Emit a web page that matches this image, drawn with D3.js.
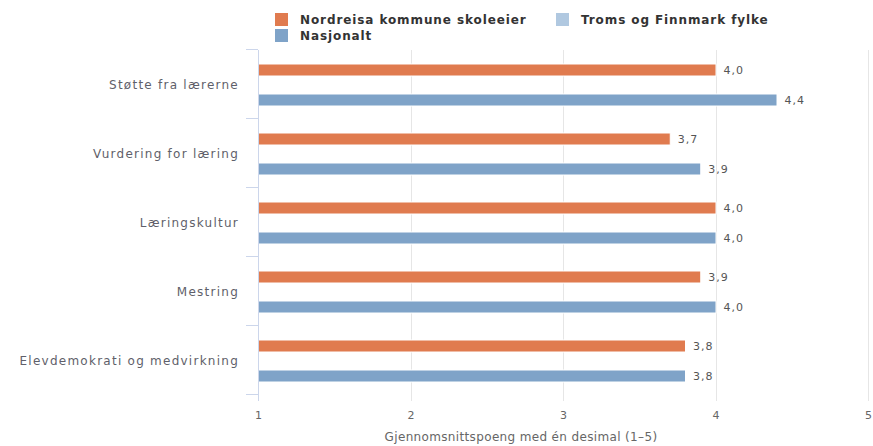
<!DOCTYPE html>
<html>
<head>
<meta charset="utf-8">
<script src="https://cdn.jsdelivr.net/npm/d3@7"></script>
<style>
  html, body { margin: 0; padding: 0; background: #fff; }
  svg { display: block; font-family: "DejaVu Sans", Verdana, sans-serif; }
</style>
</head>
<body>
<svg id="chart" width="873" height="446"></svg>
<script>
// Categories (indicators) and series values, average score 1–5
const categories = [
  "Støtte fra lærerne",
  "Vurdering for læring",
  "Læringskultur",
  "Mestring",
  "Elevdemokrati og medvirkning"
];
const seriesNames = ["Nordreisa kommune skoleeier", "Troms og Finnmark fylke", "Nasjonalt"];
const nordreisa = [4.0, 3.7, 4.0, 3.9, 3.8];
const troms = [null, null, null, null, null];
const nasjonalt = [4.4, 3.9, 4.0, 4.0, 3.8];
const xTicks = [1, 2, 3, 4, 5];
const xTitle = "Gjennomsnittspoeng med én desimal (1–5)";

const colors = ["#e07b4f", "#b0c8e0", "#7fa3c8"];
const seriesValues = [nordreisa, troms, nasjonalt];

const svg = d3.select("#chart");
const left = 258;

const x = d3.scaleLinear().domain([1, 5]).range([left, 868]);
const y = d3.scaleBand().domain(categories).range([50, 395]);
const inner = d3.scaleBand().domain(d3.range(seriesNames.length))
  .range([-20.5, 21.5]).paddingInner(0.2).paddingOuter(0);

// vertical grid lines
svg.append("g").selectAll("line")
  .data(xTicks.slice(1))
  .join("line")
  .attr("x1", d => Math.round(x(d)) + 0.5)
  .attr("x2", d => Math.round(x(d)) + 0.5)
  .attr("y1", 50).attr("y2", 401)
  .attr("stroke", "#e6e6e6").attr("stroke-width", 1);

// bars with value labels
const groups = svg.append("g").selectAll("g")
  .data(categories)
  .join("g")
  .attr("transform", d => `translate(0,${y(d) + y.bandwidth() / 2})`);

seriesValues.forEach((vals, si) => {
  groups.each(function (cat, ci) {
    const v = vals[ci];
    if (v == null) return;
    const g = d3.select(this);
    const by = inner(si);
    g.append("rect")
      .attr("x", x(1) + 0.5)
      .attr("y", by)
      .attr("width", x(v) - x(1))
      .attr("height", inner.bandwidth())
      .attr("fill", colors[si])
      .attr("stroke", "#fff")
      .attr("stroke-width", 1);
    g.append("text")
      .attr("x", x(v) + 8)
      .attr("y", by + inner.bandwidth() / 2)
      .attr("dy", "0.35em")
      .attr("font-size", 11)
      .attr("letter-spacing", 1)
      .attr("font-weight", 500)
      .attr("fill", "#555")
      .text(d3.format(".1f")(v).replace(".", ","));
  });
});

// category axis (left)
const yAxis = svg.append("g");
yAxis.append("line")
  .attr("x1", left + 0.5).attr("x2", left + 0.5)
  .attr("y1", 50).attr("y2", 401)
  .attr("stroke", "#ccd6eb");
const boundaries = categories.map(c => y(c)).concat([y.range()[1]]);
yAxis.selectAll("line.tick")
  .data(boundaries)
  .join("line")
  .attr("class", "tick")
  .attr("x1", 246).attr("x2", left)
  .attr("y1", d => Math.round(d) - 0.5).attr("y2", d => Math.round(d) - 0.5)
  .attr("stroke", "#ccd6eb");
yAxis.selectAll("text")
  .data(categories)
  .join("text")
  .attr("x", 239)
  .attr("y", d => y(d) + y.bandwidth() / 2)
  .attr("dy", "0.35em")
  .attr("text-anchor", "end")
  .attr("font-size", 12)
  .attr("letter-spacing", 1.25)
  .attr("fill", "#5f5f6a")
  .text(d => d);

// value axis (bottom)
const xAxis = d3.axisBottom(x).tickValues(xTicks).tickFormat(d3.format("d"))
  .tickSize(0).tickPadding(0);
const xg = svg.append("g").attr("transform", "translate(0,411)").call(xAxis);
xg.select(".domain").remove();
xg.selectAll("text")
  .attr("font-size", 11)
  .attr("font-family", "DejaVu Sans, Verdana, sans-serif")
  .attr("fill", "#666")
  .attr("dy", "0.71em");

svg.append("text")
  .attr("x", 521)
  .attr("y", 441)
  .attr("text-anchor", "middle")
  .attr("font-size", 12)
  .attr("letter-spacing", 0.35)
  .attr("fill", "#666")
  .text(xTitle);

// legend
const legendItems = [
  { name: seriesNames[0], color: colors[0], x: 275, y: 13 },
  { name: seriesNames[1], color: colors[1], x: 556, y: 13 },
  { name: seriesNames[2], color: colors[2], x: 275, y: 29 }
];
const lg = svg.append("g").selectAll("g")
  .data(legendItems)
  .join("g")
  .attr("transform", d => `translate(${d.x},${d.y})`);
lg.append("rect").attr("width", 13).attr("height", 13).attr("fill", d => d.color);
lg.append("text")
  .attr("x", 25).attr("y", 6.5).attr("dy", "0.35em")
  .attr("font-size", 12).attr("font-weight", "bold")
  .attr("letter-spacing", 0.9)
  .attr("fill", "#333")
  .text(d => d.name);
</script>
</body>
</html>
